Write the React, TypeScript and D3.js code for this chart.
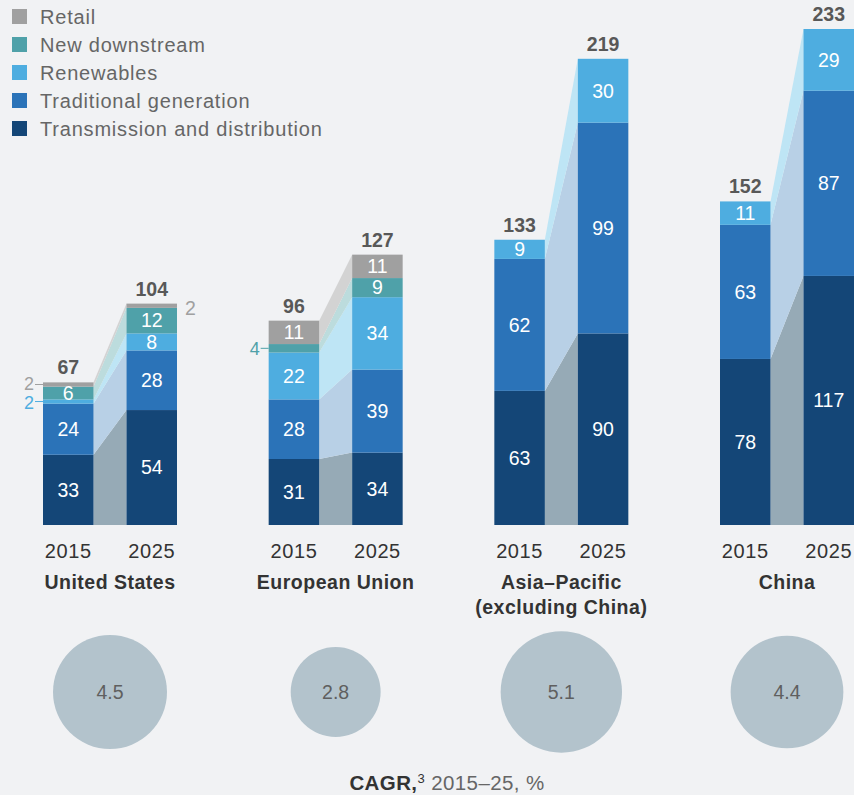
import React from "react";
import * as d3 from "d3";

const regions = ["United States", "European Union", "Asia–Pacific", "China"];
const regionSub = ["", "", "(excluding China)", ""];
const years = ["2015", "2025"];
const layerNames = [
  "Transmission and distribution",
  "Traditional generation",
  "Renewables",
  "New downstream",
  "Retail",
];
const legendOrder = [
  "Retail",
  "New downstream",
  "Renewables",
  "Traditional generation",
  "Transmission and distribution",
];

const td2015 = [33, 31, 63, 78];
const td2025 = [54, 34, 90, 117];
const tg2015 = [24, 28, 62, 63];
const tg2025 = [28, 39, 99, 87];
const ren2015 = [2, 22, 9, 11];
const ren2025 = [8, 34, 30, 29];
const nd2015 = [6, 4, 0, 0];
const nd2025 = [12, 9, 0, 0];
const retail2015 = [2, 11, 0, 0];
const retail2025 = [2, 11, 0, 0];
const totals2015 = [67, 96, 133, 152];
const totals2025 = [104, 127, 219, 233];
const cagr = [4.5, 2.8, 5.1, 4.4];

const layerColors: Record<string, string> = {
  "Transmission and distribution": "#144677",
  "Traditional generation": "#2b73b8",
  Renewables: "#4eade0",
  "New downstream": "#4fa1a9",
  Retail: "#a0a0a0",
};
const connectorColors: Record<string, string> = {
  "Transmission and distribution": "#96aab6",
  "Traditional generation": "#b8d0e6",
  Renewables: "#bee5f5",
  "New downstream": "#bcdcdd",
  Retail: "#d3d3d3",
};
const outsideLabelColors: Record<string, string> = {
  "Transmission and distribution": "#144677",
  "Traditional generation": "#2b73b8",
  Renewables: "#4eade0",
  "New downstream": "#4fa1a9",
  Retail: "#a0a0a0",
};

const W = 854;
const H = 795;
const FONT = "'Liberation Sans', Arial, Helvetica, sans-serif";

export default function App() {
  const data2015 = [td2015, tg2015, ren2015, nd2015, retail2015];
  const data2025 = [td2025, tg2025, ren2025, nd2025, retail2025];

  const y = d3.scaleLinear().domain([0, 233]).range([525, 29]);
  const xGroup = d3.scalePoint<string>().domain(regions).range([110, 787]);
  const xYear = d3
    .scaleBand<string>()
    .domain(years)
    .range([-67, 67])
    .paddingInner(0.395)
    .paddingOuter(0);
  const r = d3.scaleSqrt().domain([0, 4.5]).range([0, 57]);
  const bw = xYear.bandwidth();

  const stackFor = (arr: number[][], gi: number) => {
    const out: { name: string; v: number; y0: number; y1: number }[] = [];
    let acc = 0;
    arr.forEach((series, li) => {
      const v = series[gi];
      out.push({ name: layerNames[li], v, y0: acc, y1: acc + v });
      acc += v;
    });
    return out;
  };

  const area = d3
    .area<{ x: number; y0: number; y1: number }>()
    .x((d) => d.x)
    .y0((d) => y(d.y0))
    .y1((d) => y(d.y1));

  return (
    <svg width={W} height={H} style={{ display: "block", position: "absolute", left: 0, top: 0, background: "#f1f2f4" }}>
      <rect x={0} y={0} width={W} height={H} fill="#f1f2f4" />
      {/* legend */}
      {legendOrder.map((name, i) => (
        <g key={name} transform={`translate(12, ${9 + i * 28})`}>
          <rect width={15} height={15} fill={layerColors[name]} />
          <text x={28} y={14.5} fontFamily={FONT} fontSize={20} letterSpacing={0.8} fill="#666">
            {name}
          </text>
        </g>
      ))}

      {regions.map((reg, gi) => {
        const cx = xGroup(reg)!;
        const x15 = cx + xYear("2015")!;
        const x25 = cx + xYear("2025")!;
        const s15 = stackFor(data2015, gi);
        const s25 = stackFor(data2025, gi);
        const top15 = s15[s15.length - 1].y1;
        const top25 = s25[s25.length - 1].y1;
        return (
          <g key={reg}>
            {/* connectors */}
            {s15.map((seg, li) => {
              const seg2 = s25[li];
              if (seg.v === 0 && seg2.v === 0) return null;
              const path = area([
                { x: x15 + bw, y0: seg.y0, y1: seg.y1 },
                { x: x25, y0: seg2.y0, y1: seg2.y1 },
              ]);
              return <path key={li} d={path!} fill={connectorColors[seg.name]} />;
            })}
            {/* bars */}
            {[
              { s: s15, x: x15, side: "left" },
              { s: s25, x: x25, side: "right" },
            ].map((b, bi) => (
              <g key={bi}>
                {b.s.map((seg, li) =>
                  seg.v > 0 ? (
                    <rect
                      key={li}
                      x={b.x}
                      y={y(seg.y1)}
                      width={bw}
                      height={y(seg.y0) - y(seg.y1)}
                      fill={layerColors[seg.name]}
                    />
                  ) : null
                )}
                {b.s.map((seg, li) => {
                  if (seg.v <= 0) return null;
                  const ym = (y(seg.y0) + y(seg.y1)) / 2;
                  if (seg.v >= 5) {
                    return (
                      <text
                        key={"t" + li}
                        x={b.x + bw / 2}
                        y={ym}
                        dy="0.35em"
                        textAnchor="middle"
                        fontFamily={FONT}
                        fontSize={19.5}
                        fill="#fff"
                      >
                        {seg.v}
                      </text>
                    );
                  }
                  const col = outsideLabelColors[seg.name];
                  const nudge = seg.name === "Retail" ? -1 : seg.name === "Renewables" ? 1 : 0;
                  if (b.side === "left") {
                    return (
                      <g key={"t" + li}>
                        <line x1={b.x - 8} x2={b.x} y1={ym} y2={ym} stroke={col} strokeWidth={1} />
                        <text
                          x={b.x - 9}
                          y={ym + nudge}
                          dy="0.35em"
                          textAnchor="end"
                          fontFamily={FONT}
                          fontSize={18}
                          fill={col}
                        >
                          {seg.v}
                        </text>
                      </g>
                    );
                  }
                  return (
                    <text
                      key={"t" + li}
                      x={b.x + bw + 8}
                      y={ym + 2}
                      dy="0.35em"
                      textAnchor="start"
                      fontFamily={FONT}
                      fontSize={19.5}
                      fill={col}
                    >
                      {seg.v}
                    </text>
                  );
                })}
              </g>
            ))}
            {/* totals */}
            <text
              x={x15 + bw / 2}
              y={y(top15) - 8}
              textAnchor="middle"
              fontFamily={FONT}
              fontSize={19.5}
              fontWeight="bold"
              fill="#585858"
            >
              {totals2015[gi]}
            </text>
            <text
              x={x25 + bw / 2}
              y={y(top25) - 8}
              textAnchor="middle"
              fontFamily={FONT}
              fontSize={19.5}
              fontWeight="bold"
              fill="#585858"
            >
              {totals2025[gi]}
            </text>
            {/* year labels */}
            {years.map((yr) => (
              <text
                key={yr}
                x={cx + xYear(yr)! + bw / 2}
                y={558}
                textAnchor="middle"
                fontFamily={FONT}
                fontSize={20}
                letterSpacing={0.6}
                fill="#333"
              >
                {yr}
              </text>
            ))}
            <text x={cx} y={589} textAnchor="middle" fontFamily={FONT} fontSize={19.5} letterSpacing={0.5} fontWeight="bold" fill="#333">
              {reg}
            </text>
            {regionSub[gi] && (
              <text x={cx} y={614} textAnchor="middle" fontFamily={FONT} fontSize={19.5} letterSpacing={0.5} fontWeight="bold" fill="#333">
                {regionSub[gi]}
              </text>
            )}
            {/* CAGR circle */}
            <circle cx={cx} cy={692} r={r(cagr[gi])} fill="#b3c3cc" />
            <text
              x={cx}
              y={692}
              dy="0.35em"
              textAnchor="middle"
              fontFamily={FONT}
              fontSize={19.5}
              fill="#5f5f5f"
            >
              {cagr[gi].toFixed(1)}
            </text>
          </g>
        );
      })}

      <text x={447} y={790} textAnchor="middle" fontFamily={FONT} fontSize={20.5} letterSpacing={0.4} fill="#666">
        <tspan fontWeight="bold" fill="#333">CAGR,</tspan>
        <tspan fontSize={13} dy={-7} fill="#333">3</tspan>
        <tspan dy={7}> 2015–25, %</tspan>
      </text>
    </svg>
  );
}
